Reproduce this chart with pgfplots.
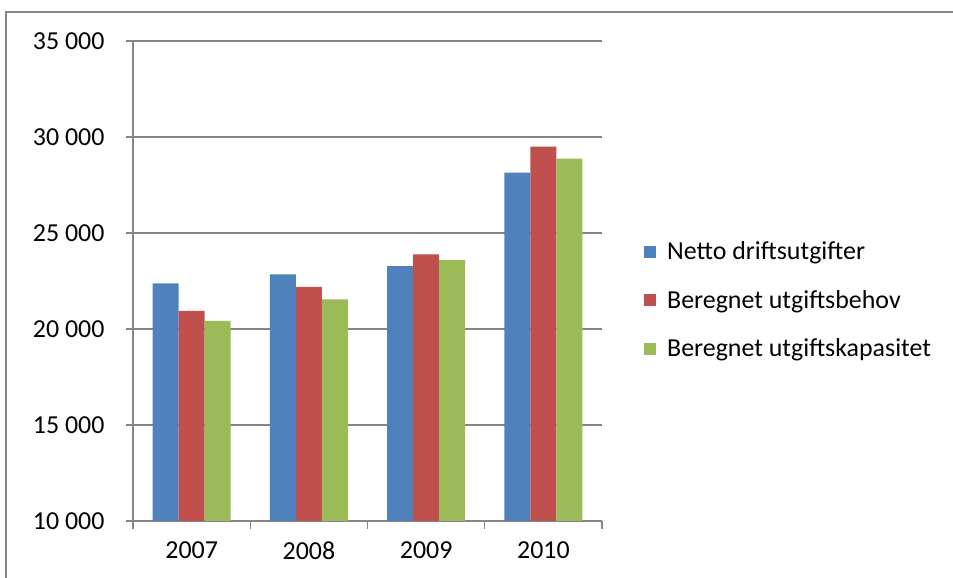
\documentclass[border=0pt]{standalone}
\usepackage{fontspec}
\setmainfont{Carlito}
\usepackage{pgfplots}
\pgfplotsset{compat=1.18}
\definecolor{cblue}{HTML}{4F81BD}
\definecolor{cred}{HTML}{C0504D}
\definecolor{cgreen}{HTML}{9BBB59}
\definecolor{cgrid}{HTML}{868686}
\begin{document}
\begin{tikzpicture}[x=1bp,y=1bp]
\useasboundingbox (0,0) rectangle (953,578);
\draw[cgrid, line width=1.2bp] (6,-2) -- (6,566) -- (955,566);
\begin{axis}[
  at={(133bp,57bp)}, anchor=south west,
  scale only axis, width=469bp, height=480bp,
  ybar=0pt, bar width=26bp,
  xmin=-0.5, xmax=3.5, ymin=10000, ymax=35000,
  scaled y ticks=false,
  xtick={0,1,2,3}, xticklabels={2007,2008,2009,2010},
  minor xtick={-0.5,0.5,1.5,2.5,3.5},
  ytick={10000,15000,20000,25000,30000,35000},
  yticklabels={10 000,15 000,20 000,25 000,30 000,35 000},
  axis x line*=bottom, axis y line*=left,
  ymajorgrids, grid style={cgrid, line width=1.2bp},
  axis line style={cgrid, line width=1.2bp},
  tick align=outside, major tick length=7bp, minor tick length=8bp,
  every tick/.style={cgrid, line width=1.2bp},
  every major x tick/.style={draw=none},
  tick label style={font=\fontsize{26}{31}\selectfont, black},
  yticklabel style={xshift=-18bp},
  xticklabel style={yshift=-10bp},
  legend style={at={(1,0.46)}, anchor=west, xshift=39bp, draw=none, fill=none,
    font=\fontsize{26}{31}\selectfont, row sep=25bp, cells={anchor=west},
    /tikz/every odd column/.append style={column sep=9bp}},
  legend image code/.code={\fill[#1, draw=none] (0bp,-6bp) rectangle (12bp,6bp);},
]
\addplot[fill=cblue, draw=none] coordinates {(0,22380) (1,22840) (2,23270) (3,28150)};
\addplot[fill=cred, draw=none] coordinates {(0,20940) (1,22200) (2,23880) (3,29500)};
\addplot[fill=cgreen, draw=none] coordinates {(0,20420) (1,21540) (2,23590) (3,28870)};
\legend{Netto driftsutgifter, Beregnet utgiftsbehov, Beregnet utgiftskapasitet}
\end{axis}
\end{tikzpicture}
\end{document}
